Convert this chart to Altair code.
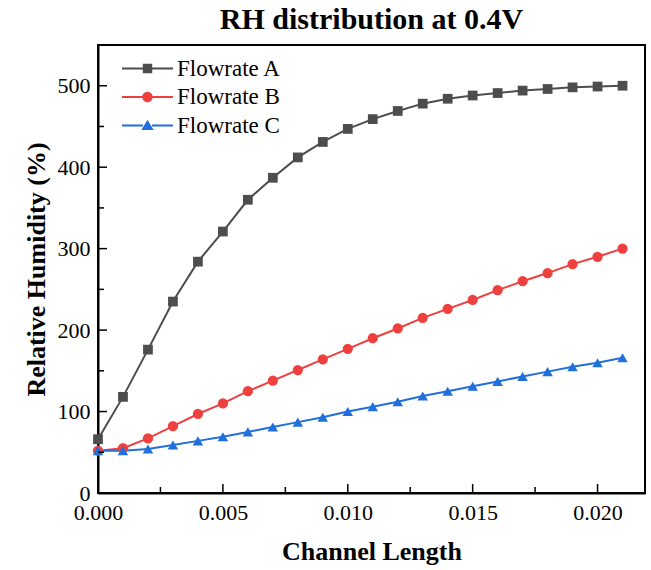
import altair as alt
import pandas as pd

# ---- data ----
channel_length = [0.000, 0.001, 0.002, 0.003, 0.004, 0.005, 0.006, 0.007, 0.008, 0.009, 0.010,
                  0.011, 0.012, 0.013, 0.014, 0.015, 0.016, 0.017, 0.018, 0.019, 0.020, 0.021]
flow_a = [66, 118, 176, 235, 284, 321, 360, 387, 412, 431, 447,
          459, 469, 478, 484, 488, 491, 494, 496, 498, 499, 500]
flow_b = [52, 55, 67, 82, 97, 110, 125, 138, 151, 164, 177,
          190, 202, 215, 226, 237, 249, 260, 270, 281, 290, 300]
flow_c = [52, 52, 54, 59, 64, 69, 75, 81, 87, 93, 100,
          106, 112, 119, 125, 131, 137, 143, 149, 155, 160, 166]
series_names = ["Flowrate A", "Flowrate B", "Flowrate C"]
series_colors = ["#4d4d4d", "#ef4040", "#1f6fdc"]

x_major = [0.000, 0.005, 0.010, 0.015, 0.020]
x_minor = [0.0025, 0.0075, 0.0125, 0.0175]
y_major = [0, 100, 200, 300, 400, 500]
y_minor = [50, 150, 250, 350, 450]

rows = []
for name, vals in zip(series_names, [flow_a, flow_b, flow_c]):
    for xv, yv in zip(channel_length, vals):
        rows.append({"x": xv, "y": yv, "series": name})
df = pd.DataFrame(rows)

W, H = 547, 448
FONT = "Liberation Serif"

xscale = alt.Scale(domain=[0, 0.0219], nice=False, zero=False)
yscale = alt.Scale(domain=[0, 550], nice=False)
cscale = alt.Scale(domain=series_names, range=series_colors)

# legend symbols: line segment + marker (unit box, scaled by symbolSize)
legend_paths = [
    "M-3.4,-0.13H-0.6V0.13H-3.4Z M0.6,-0.13H3.4V0.13H0.6Z M-0.63,-0.63H0.63V0.63H-0.63Z",
    "M-3.4,-0.13H-0.6V0.13H-3.4Z M0.6,-0.13H3.4V0.13H0.6Z M-0.7,0A0.7,0.7 0 1,1 0.7,0A0.7,0.7 0 1,1 -0.7,0Z",
    "M-3.4,-0.13H-0.6V0.13H-3.4Z M0.6,-0.13H3.4V0.13H0.6Z M0,-0.78L0.82,0.6L-0.82,0.6Z",
]

x_axis = alt.Axis(values=x_major, format=".3f", ticks=False, grid=False, labelFlush=False,
                  title="Channel Length", labelPadding=9, titlePadding=15)
y_axis = alt.Axis(values=y_major, format="d", ticks=False, grid=False, labelFlush=False,
                  title="Relative Humidity (%)", labelPadding=8, titlePadding=8)

legend_spec = alt.Legend(
    title=None, orient="none", legendX=38, legendY=12,
    labelFont=FONT, labelFontSize=23, labelColor="black",
    symbolSize=225, symbolStrokeWidth=0, symbolOpacity=1,
    labelOffset=18, rowPadding=4.5, padding=0,
)

X = alt.X("x:Q", scale=xscale, axis=x_axis)
Y = alt.Y("y:Q", scale=yscale, axis=y_axis)

base = alt.Chart(df)

lines = base.mark_line(strokeWidth=2).encode(
    x=X, y=Y,
    color=alt.Color("series:N", scale=cscale, legend=legend_spec),
)

marker_shapes = {"Flowrate A": ("square", 95), "Flowrate B": ("circle", 105), "Flowrate C": ("triangle-up", 110)}
point_layers = []
for name in series_names:
    shp, sz = marker_shapes[name]
    point_layers.append(
        base.transform_filter(alt.datum.series == name)
        .mark_point(filled=True, shape=shp, size=sz, opacity=1)
        .encode(x=X, y=Y, color=alt.Color("series:N", scale=cscale, legend=legend_spec))
    )

legend_layer = base.mark_point(filled=True, opacity=0).encode(
    x=X, y=Y,
    color=alt.Color("series:N", scale=cscale, legend=legend_spec),
    shape=alt.Shape("series:N", scale=alt.Scale(domain=series_names, range=legend_paths), legend=legend_spec),
)

XT = alt.X("v:Q", scale=xscale, axis=x_axis, title="Channel Length")
YT = alt.Y("v:Q", scale=yscale, axis=y_axis, title="Relative Humidity (%)")
tick_major_x = alt.Chart(pd.DataFrame({"v": x_major})).mark_rule(color="black", strokeWidth=1.5).encode(
    x=XT, y=alt.value(H), y2=alt.value(H - 9))
tick_minor_x = alt.Chart(pd.DataFrame({"v": x_minor})).mark_rule(color="black", strokeWidth=1.5).encode(
    x=XT, y=alt.value(H), y2=alt.value(H - 6))
tick_major_y = alt.Chart(pd.DataFrame({"v": y_major})).mark_rule(color="black", strokeWidth=1.5).encode(
    y=YT, x=alt.value(0), x2=alt.value(9))
tick_minor_y = alt.Chart(pd.DataFrame({"v": y_minor})).mark_rule(color="black", strokeWidth=1.5).encode(
    y=YT, x=alt.value(0), x2=alt.value(6))

chart = alt.layer(
    lines, *point_layers, legend_layer,
    tick_major_x, tick_minor_x, tick_major_y, tick_minor_y,
).properties(
    width=W, height=H,
    background="white",
    title=alt.TitleParams("RH distribution at 0.4V", font=FONT, fontSize=30, fontWeight="bold",
                          color="black", anchor="middle", baseline="alphabetic", offset=-14,
                          frame="group"),
    autosize=alt.AutoSizeParams(type="none"),
    padding={"left": 98, "top": 45, "right": 6, "bottom": 77},
).configure_view(
    stroke="black", strokeWidth=2
).configure_axis(
    labelFont=FONT, labelFontSize=22, labelColor="black",
    titleFont=FONT, titleFontSize=26, titleFontWeight="bold", titleColor="black",
    domainColor="black", domainWidth=2,
)

chart.save("out.html", embed_options={"renderer": "svg", "actions": False})
